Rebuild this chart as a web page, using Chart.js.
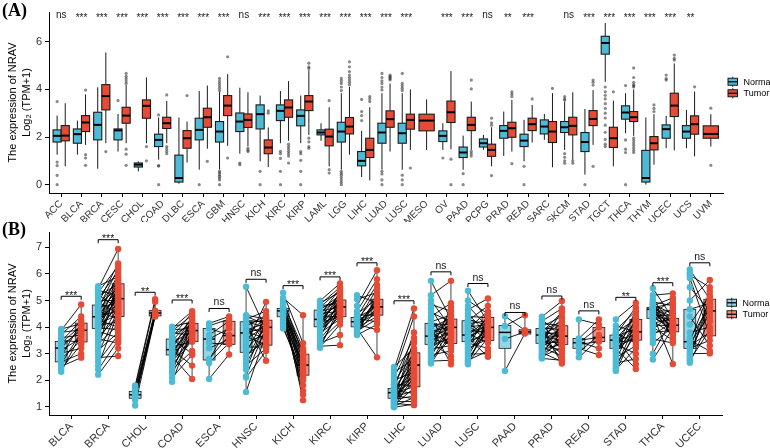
<!DOCTYPE html>
<html>
<head>
<meta charset="utf-8">
<script src="https://cdn.jsdelivr.net/npm/chart.js@4.4.1/dist/chart.umd.min.js"></script>
<style>
  body { margin: 0; background: #fff; width: 770px; height: 448px; overflow: hidden; position: relative; }
  canvas { position: absolute; left: 0; }
  #ca { top: 0; }
  #cb { top: 222px; }
  .tag { position: absolute; left: 2px; font: bold 18px "Liberation Serif", "Times New Roman", serif; line-height: 20px; }
</style>
</head>
<body>
<canvas id="ca" width="770" height="222"></canvas>
<canvas id="cb" width="770" height="226"></canvas>
<div class="tag" style="top:0px">(A)</div>
<div class="tag" style="top:219px">(B)</div>
<script>
const BLUE = '#4DBBD5', RED = '#E64B35';

// ---- panel A : pan-cancer, unpaired ----
const cancersA = ['ACC','BLCA','BRCA','CESC','CHOL','COAD','DLBC','ESCA','GBM','HNSC','KICH','KIRC','KIRP','LAML','LGG','LIHC','LUAD','LUSC','MESO','OV','PAAD','PCPG','PRAD','READ','SARC','SKCM','STAD','TGCT','THCA','THYM','UCEC','UCS','UVM'];
// [lower whisker, q1, median, q3, upper whisker]
const normalA = [
  [1.26,1.79,2.05,2.30,2.90], [1.26,1.74,2.12,2.34,2.69], [0.67,1.88,2.51,3.04,4.09], [1.39,1.88,2.28,2.34,2.97],
  [0.56,0.74,0.84,0.91,0.98], [1.05,1.60,1.88,2.12,2.82], [0.04,0.11,0.28,1.24,2.82], [0.63,1.88,2.30,2.79,3.93],
  [0.63,1.79,2.23,2.65,3.90], [1.30,2.23,2.65,3.01,4.07], [0.98,2.34,2.96,3.35,3.74], [1.74,2.69,3.10,3.35,3.93],
  [1.74,2.47,2.89,3.14,3.74], [1.84,2.09,2.19,2.30,2.58], [0.63,1.79,2.23,2.62,3.84], [0.32,0.79,1.00,1.39,2.26],
  [0.63,1.74,2.19,2.58,3.84], [0.63,1.74,2.16,2.58,3.84], null, [1.46,1.81,2.05,2.26,2.58],
  [0.63,1.14,1.35,1.58,2.06], [1.46,1.58,1.74,1.92,2.09], [1.21,1.95,2.26,2.48,3.07], [0.98,1.60,1.85,2.12,2.72],
  [1.88,2.13,2.44,2.72,2.97], [1.46,2.19,2.41,2.65,3.49], [0.42,1.39,1.79,2.19,3.18], [4.32,5.48,5.95,6.23,6.79],
  [2.16,2.75,3.03,3.31,3.84], [0.00,0.11,0.28,1.44,2.82], [1.53,1.95,2.33,2.51,2.89], [1.53,1.95,2.23,2.48,3.14], null
];
const tumorA = [
  [0.77,1.84,2.06,2.48,3.42], [1.67,2.23,2.61,2.90,3.79], [1.74,3.14,3.72,4.20,5.55], [1.74,2.58,2.90,3.25,4.18],
  [1.74,2.79,3.31,3.56,4.50], [1.74,2.36,2.58,2.83,3.51], [0.93,1.53,1.95,2.27,2.65], [1.51,2.41,2.83,3.21,4.16],
  [1.63,2.90,3.32,3.74,4.64], [1.60,2.40,2.72,2.97,3.88], [0.74,1.30,1.56,1.88,2.40], [1.84,2.83,3.24,3.56,4.35],
  [2.09,3.11,3.49,3.74,4.81], [0.77,1.63,2.02,2.33,3.25], [1.26,2.13,2.44,2.82,4.11], [0.18,1.14,1.46,1.95,3.25],
  [1.39,2.41,2.75,3.10,4.25], [1.46,2.33,2.72,2.96,4.00], [1.46,2.26,2.69,2.96,3.58], [1.49,2.61,3.04,3.51,4.77],
  [1.46,2.27,2.51,2.83,3.49], [0.77,1.19,1.46,1.70,2.41], [1.39,1.99,2.37,2.62,3.56], [1.77,2.27,2.54,2.79,3.35],
  [0.73,1.77,2.23,2.65,3.84], [1.05,2.09,2.47,2.83,3.88], [1.67,2.48,2.76,3.11,3.97], [0.77,1.56,1.95,2.41,3.53],
  [2.05,2.65,2.83,3.07,4.00], [0.84,1.46,1.74,2.02,2.96], [1.44,2.86,3.32,3.84,5.09], [1.19,2.12,2.54,2.89,3.91],
  [1.60,1.95,2.13,2.47,2.96]
];
const normalOutA = [
  [3.49,0.95,0.8,0.39,0], [], [], [3.53], [], [2.93,0.8,0.78,0], [], [0],
  [4.46,4.35,4.25,4.15,4.05,3.95,0.56,0.5,0.42,0.35,0.28,0.2,0], [0.91,0.84], [0.56,0], [1.4,1.3,1.1,0.56,0],
  [1.39,1.3,1.02,0.56,0], [], [4.46,4.36,4.25,4.1,3.95,0.56,0.48,0.4,0.3,0.2,0.1,0], [3.58,3.07,2.9,2.69],
  [4.67,4.5,4.36,4.25,4.1,3.98,0.56,0.45,0.2,0], [4.67,4.25,4.15,4.05,3.95,0.4,0.2,0], [], [1.12],
  [0.46,0], [], [], [0.77,0], [], [3.7,3.6,3.55,1.3,1.15,1.0,0.9], [0],
  [4.1,3.9,3.75,3.6,3.4,3.2,3.0,2.8,2.5,2.2,1.9,1.7,1.6], [4.16,1.88,1.49,1.35,0], [], [4.6,4.45,4.39], [], []
];
const tumorOutA = [
  [], [3.97,1.26,1.12,0.81], [1.39], [4.67,4.55,4.45,4.35,4.25,1.49,1.28,0.81], [1.6,1.0], [3.77,1.6,1.5,1.4,1.3],
  [3.74], [0.98], [5.37,1.12], [1.53,1.45,1.39], [3.1,3.0], [1.7,1.6,1.5,1.4,1.3,1.2,0.91],
  [5.1,4.95,4.88,1.95,1.8,1.6,1.53], [3.53,0.63,0.49], [5.16,4.95,4.75,4.6,4.5,4.4,4.3,4.2], [3.7,3.6,3.49],
  [4.6,4.55,4.5,4.45,4.4], [0.7], [], [1.07,0], [4.39,4.02,1.4,1.3,1.2], [2.79,2.6,2.5,0.38], [3.9,3.8,3.7,0.88],
  [3.6], [4.04], [1.0,0.9], [4.39,4.3,4.18,0.77], [3.9],
  [4.9,4.5,4.3,4.2,4.15,4.1,1.95,1.85,1.75,1.65,1.55,1.45,1.35], [3.35,3.2,3.07], [5.44,5.3,5.23], [4.11], [3.21,0.81]
];
const sigA = ['ns','***','***','***','***','***','***','***','***','ns','***','***','***','***','***','***','***','***','',
  '***','***','ns','**','***','','ns','***','***','***','***','***','**',''];
const sigLevelA = 7.11;

// ---- panel B : paired samples ----
const cancersB = ['BLCA','BRCA','CHOL','COAD','ESCA','HNSC','KICH','KIRC','KIRP','LIHC','LUAD','LUSC','PAAD','PRAD','READ','STAD','THCA','UCEC'];
const normalB = [
  [2.32,2.69,3.21,3.46,3.93], [2.21,3.95,4.39,4.83,5.54], [1.05,1.32,1.45,1.58,1.80], [1.94,2.95,3.15,3.55,4.01],
  [2.05,2.76,3.55,3.95,4.14], [1.56,3.05,3.78,4.20,5.52], [3.95,4.39,4.61,4.70,5.29], [3.22,4.01,4.29,4.64,4.99],
  [3.70,4.01,4.20,4.36,5.20], [0.98,1.32,1.53,1.69,2.50], [2.63,3.35,3.66,4.14,5.74], [2.60,3.45,3.70,4.24,5.37],
  [2.35,3.20,3.80,4.06,4.41], [2.82,3.39,3.70,3.95,4.39], [2.86,3.20,3.41,3.57,4.29], [2.35,3.20,3.51,3.70,4.29],
  [2.78,4.33,4.67,4.74,5.46], [2.66,3.20,3.45,4.67,6.17]
];
const tumorB = [
  [2.85,3.44,3.88,4.15,4.85], [2.91,4.40,5.07,5.63,6.94], [4.40,4.42,4.53,4.62,5.05], [2.05,3.45,3.87,4.14,4.60],
  [2.97,3.35,3.68,4.22,4.40], [2.73,3.32,3.99,4.26,4.95], [1.25,2.19,2.57,2.98,4.45], [3.32,4.39,4.76,5.02,5.64],
  [2.86,4.45,4.76,5.05,6.14], [1.06,1.75,2.57,3.03,4.70], [2.60,3.38,3.99,4.30,5.74], [2.88,3.50,3.99,4.36,5.08],
  [3.74,3.74,3.82,3.90,4.45], [2.63,3.35,3.66,4.05,4.98], [2.95,3.45,3.61,3.99,4.29], [2.42,3.51,3.82,4.29,4.91],
  [2.61,3.82,4.07,4.33,5.27], [3.01,3.67,4.61,5.05,5.77]
];
// paired values, pairN[i][k] belongs with pairT[i][k]
const pairN = [
  [3.93,3.88,3.80,3.72,3.60,3.50,3.46,3.40,3.30,3.21,3.12,3.02,2.90,2.80,2.69,2.62,2.52,2.42,2.32],
  [5.54,5.45,5.38,5.30,5.22,5.15,5.08,5.00,4.95,4.90,4.85,4.80,4.75,4.70,4.65,4.60,4.55,4.50,4.46,4.42,4.39,4.35,4.30,4.26,4.22,4.18,4.14,4.10,4.06,4.02,3.98,3.95,3.90,3.84,3.78,3.70,3.62,3.55,3.45,3.35,3.25,3.12,3.00,2.85,2.70,2.55,2.40,2.21],
  [1.80,1.72,1.65,1.55,1.48,1.42,1.35,1.25,1.05],
  [4.01,3.95,3.90,3.85,3.78,3.70,3.62,3.55,3.48,3.40,3.33,3.26,3.20,3.15,3.10,3.05,3.00,2.95,2.90,2.85,2.78,2.70,2.62,2.55,2.48,2.40,2.32,2.25,2.10,1.94],
  [4.14,4.05,3.95,3.70,3.55,3.40,3.20,2.80,2.76,2.65,2.05],
  [5.52,4.45,4.40,4.35,4.30,4.25,4.20,4.15,4.10,4.02,3.95,3.88,3.80,3.78,3.72,3.65,3.55,3.45,3.35,3.25,3.15,3.05,2.95,2.80,2.65,2.55,2.40,2.15,2.10,1.56],
  [5.29,5.10,5.00,4.92,4.85,4.80,4.75,4.72,4.70,4.68,4.65,4.62,4.61,4.58,4.55,4.50,4.47,4.44,4.40,4.36,4.30,4.22,4.15,4.05,3.95],
  [4.99,4.92,4.85,4.80,4.75,4.70,4.64,4.60,4.55,4.50,4.46,4.42,4.38,4.34,4.29,4.25,4.21,4.17,4.13,4.09,4.05,4.01,3.96,3.90,3.84,3.78,3.70,3.62,3.55,3.48,3.40,3.32,3.28,3.25,3.22],
  [5.20,5.05,4.80,4.60,4.50,4.45,4.40,4.36,4.32,4.28,4.24,4.20,4.17,4.14,4.10,4.06,4.03,4.01,3.98,3.95,3.90,3.85,3.80,3.75,3.70],
  [2.50,2.40,2.30,2.20,2.10,2.00,1.92,1.85,1.80,1.75,1.70,1.66,1.62,1.58,1.55,1.52,1.49,1.46,1.43,1.40,1.37,1.34,1.31,1.28,1.25,1.22,1.19,1.16,1.13,1.10,1.07,1.04,1.02,1.00,0.98],
  [5.74,5.20,5.00,4.85,4.70,4.55,4.40,4.30,4.20,4.14,4.08,4.02,3.96,3.90,3.84,3.78,3.72,3.66,3.60,3.55,3.50,3.45,3.40,3.35,3.30,3.25,3.18,3.10,3.02,2.95,2.88,2.80,2.72,2.68,2.63],
  [5.37,5.00,4.80,4.65,4.50,4.40,4.30,4.24,4.18,4.12,4.06,4.00,3.94,3.88,3.82,3.76,3.70,3.65,3.60,3.55,3.50,3.45,3.40,3.35,3.28,3.20,3.12,3.05,2.98,2.90,2.82,2.75,2.70,2.65,2.60],
  [4.41,4.04,3.55,2.35],
  [4.39,4.30,4.22,4.15,4.08,4.02,3.97,3.93,3.89,3.85,3.81,3.77,3.74,3.71,3.68,3.65,3.62,3.58,3.54,3.50,3.46,3.42,3.39,3.35,3.30,3.25,3.20,3.15,3.10,3.04,2.98,2.92,2.88,2.85,2.82],
  [4.29,3.57,3.50,3.45,3.41,3.35,3.20,3.05,2.86],
  [4.29,4.05,3.90,3.80,3.75,3.70,3.65,3.60,3.55,3.51,3.47,3.43,3.39,3.35,3.30,3.25,3.20,3.12,3.05,2.95,2.85,2.75,2.65,2.55,2.48,2.40,2.35],
  [5.46,5.20,5.05,4.95,4.90,4.85,4.80,4.76,4.74,4.72,4.70,4.68,4.67,4.65,4.62,4.60,4.57,4.54,4.50,4.46,4.42,4.38,4.33,4.28,4.22,4.15,4.08,4.00,3.90,3.80,3.70,3.55,3.40,3.00,2.78],
  [6.17,6.05,5.95,5.85,5.50,5.00,4.67,4.40,4.10,3.80,3.60,3.50,3.45,3.40,3.30,3.25,3.20,3.10,3.00,2.95,2.85,2.75,2.66]
];
const pairT = [
  [4.12,4.85,3.90,4.40,3.70,3.44,4.25,4.05,3.88,3.95,3.60,3.20,4.15,3.50,3.00,3.80,2.85,3.35,3.75],
  [5.90,6.94,5.20,6.30,4.70,5.63,6.10,5.00,4.50,6.40,5.45,5.80,4.90,6.20,5.35,4.30,5.75,5.10,6.00,4.60,5.55,4.85,5.25,4.00,5.70,5.07,4.45,5.40,4.20,5.15,3.90,4.80,5.50,3.60,4.95,5.30,4.40,3.40,4.75,4.10,5.60,3.80,4.65,2.91,3.70,4.55,3.50,3.20],
  [5.05,4.95,4.62,4.55,4.50,4.48,4.44,4.42,4.40],
  [4.20,4.60,3.95,4.45,3.70,4.10,4.55,3.00,4.30,3.85,4.15,3.45,4.40,2.55,3.90,4.05,3.60,4.25,2.05,3.80,4.00,3.55,4.35,3.50,3.75,3.10,4.12,3.65,2.95,3.88],
  [4.40,4.30,3.70,4.22,3.95,3.35,3.55,3.68,4.10,3.40,2.97],
  [3.90,4.30,4.10,3.40,4.60,4.20,3.99,4.26,2.73,4.45,3.80,4.15,3.60,4.00,4.35,3.32,4.05,3.70,4.95,3.25,3.95,4.40,3.50,4.10,3.85,3.20,4.25,3.99,3.10,3.75],
  [3.39,4.45,2.98,3.20,2.70,3.05,2.57,1.25,2.90,2.35,3.10,2.50,1.60,2.80,2.19,2.62,1.45,3.00,2.25,2.45,1.80,2.10,2.65,2.00,2.30],
  [5.64,5.30,5.50,4.90,5.40,5.02,5.20,4.76,5.10,4.60,5.45,4.85,4.40,5.25,4.95,4.70,5.00,4.39,5.15,4.80,4.55,5.35,4.65,4.50,4.90,4.30,4.75,5.05,4.45,4.20,3.70,4.60,3.32,4.10,4.80],
  [4.90,5.30,6.14,5.80,5.05,4.45,5.60,4.76,4.20,5.20,4.60,5.45,4.85,4.50,3.90,5.00,4.70,5.10,4.40,2.86,4.95,4.30,4.65,5.15,4.10],
  [3.20,4.70,2.80,4.40,3.60,2.30,3.03,1.80,3.40,2.57,2.10,3.80,1.50,2.90,2.40,1.75,3.10,2.00,1.30,2.70,1.60,2.20,3.50,1.40,2.60,1.90,1.20,2.50,1.06,2.35,1.70,3.00,1.35,2.15,1.10],
  [4.30,5.74,3.99,4.60,3.50,4.20,4.90,3.20,4.45,3.85,4.10,2.60,4.35,3.70,4.00,3.40,4.25,3.95,4.55,3.38,3.80,4.15,2.90,4.40,3.60,4.05,3.30,4.75,3.90,3.10,4.20,3.55,2.75,4.00,3.75],
  [4.20,4.50,3.99,5.08,3.70,4.36,4.05,4.80,3.60,4.25,3.50,4.10,4.60,3.80,4.00,3.40,4.30,3.95,2.88,4.15,3.65,4.40,3.20,3.90,4.45,3.55,3.75,4.05,3.00,4.20,3.85,3.10,3.99,3.60,4.30],
  [3.88,4.45,3.82,3.76],
  [4.98,3.60,4.70,4.05,3.30,4.40,3.90,2.63,4.20,3.66,4.55,3.20,3.80,4.10,2.80,3.50,4.30,3.70,3.00,3.95,3.40,4.60,3.10,3.85,3.55,2.90,4.00,3.35,3.75,2.70,3.45,4.15,3.25,3.60,2.75],
  [4.10,4.29,3.61,3.20,3.99,3.45,2.95,3.70,3.55],
  [4.91,3.82,4.60,4.29,3.40,4.75,3.95,2.60,4.40,3.70,4.10,3.51,4.50,3.00,4.20,3.60,2.42,4.00,3.85,4.65,3.30,4.35,2.80,3.75,4.15,3.20,3.90],
  [4.33,5.27,4.07,4.80,3.82,4.50,5.10,3.60,4.25,4.90,3.95,4.40,4.15,3.70,4.60,4.00,3.85,5.00,4.20,2.61,4.45,3.90,4.10,4.70,3.75,4.30,4.05,3.50,4.55,3.88,4.20,3.40,4.00,4.35,3.95],
  [5.05,4.20,5.50,3.67,4.61,5.77,4.90,3.30,5.20,4.00,4.75,3.10,5.35,4.45,3.80,5.00,3.50,4.61,3.01,4.85,5.10,3.90,4.30]
];
const sigB = ['***','***','**','***','ns','ns','***','***','***','***','ns','ns','ns','ns','ns','**','***','ns'];
const bracketB = [5.16,7.29,5.31,5.02,4.70,5.80,5.56,5.89,6.42,4.99,6.08,5.64,4.55,5.17,4.61,5.12,5.67,6.42];

Chart.defaults.font.family = "'Liberation Sans', Arial, sans-serif";
Chart.defaults.color = '#333';

const yTitle = ['The expression of NRAV', 'Log\u2082 (TPM+1)'];

function axes(labels, xmin, xmax, ymin, ymax, ystep, xh, xfont) {
  return {
    x: {
      type: 'linear', min: xmin, max: xmax,
      afterFit: s => { s.height = xh; },
      ticks: { stepSize: 1, includeBounds: false, autoSkip: false, minRotation: 45, maxRotation: 45, padding: 1,
        font: { size: xfont }, color: '#333', callback: v => Number.isInteger(v) ? (labels[v] || '') : '' },
      grid: { drawOnChartArea: false, drawTicks: true, tickLength: 4, color: '#000' },
      border: { color: '#000', width: 1 }
    },
    y: {
      min: ymin, max: ymax,
      afterFit: s => { s.width = 49; },
      ticks: { stepSize: ystep, includeBounds: false, padding: 3, font: { size: 11 }, color: '#333' },
      grid: { drawOnChartArea: false, drawTicks: true, tickLength: 4, color: '#000' },
      border: { color: '#000', width: 1 },
      title: { display: true, text: yTitle, color: '#000', font: { size: 11, lineHeight: 1.25 }, padding: { top: 6, bottom: 0 } }
    }
  };
}

function drawBox(ctx, xs, ys, pos, w, s, fill, lw) {
  const x0 = xs.getPixelForValue(pos - w / 2), x1 = xs.getPixelForValue(pos + w / 2), xc = xs.getPixelForValue(pos);
  const [lo, q1, md, q3, hi] = s.map(v => ys.getPixelForValue(v));
  ctx.save();
  ctx.strokeStyle = '#1a1a1a';
  ctx.lineWidth = lw[0];
  ctx.beginPath();
  ctx.moveTo(xc, lo); ctx.lineTo(xc, q1);
  ctx.moveTo(xc, q3); ctx.lineTo(xc, hi);
  ctx.stroke();
  ctx.fillStyle = fill;
  ctx.fillRect(x0, q3, x1 - x0, q1 - q3);
  ctx.lineWidth = lw[1];
  ctx.strokeRect(x0, q3, x1 - x0, q1 - q3);
  ctx.strokeStyle = '#000';
  ctx.lineWidth = lw[2];
  ctx.beginPath(); ctx.moveTo(x0, md); ctx.lineTo(x1, md); ctx.stroke();
  ctx.restore();
}

function legendPlugin(alpha) {
  return {
    id: 'legendBox',
    afterDraw(chart) {
      const { ctx, chartArea: a } = chart;
      const mid = (a.top + a.bottom) / 2 - 15;
      [['Normal', BLUE, -5.75], ['Tumor', RED, 5.75]].forEach(([name, col, dy]) => {
        const cy = mid + dy, x0 = a.right + 5, w = 9.5, h = 7;
        ctx.save();
        ctx.strokeStyle = '#1a1a1a';
        ctx.lineWidth = 1;
        ctx.beginPath();
        ctx.moveTo(x0 + w / 2, cy - h / 2 - 1.5); ctx.lineTo(x0 + w / 2, cy + h / 2 + 1.5);
        ctx.stroke();
        ctx.globalAlpha = alpha;
        ctx.fillStyle = col;
        ctx.fillRect(x0, cy - h / 2, w, h);
        ctx.globalAlpha = 1;
        ctx.strokeRect(x0, cy - h / 2, w, h);
        ctx.lineWidth = 1.5;
        ctx.beginPath(); ctx.moveTo(x0, cy); ctx.lineTo(x0 + w, cy); ctx.stroke();
        ctx.fillStyle = '#000';
        ctx.font = "9px 'Liberation Sans', Arial, sans-serif";
        ctx.textBaseline = 'middle';
        ctx.fillText(name, x0 + 15.5, cy + 0.5);
        ctx.restore();
      });
    }
  };
}

// ---- chart A ----
const OFF_A = 0.2, W_A = 0.4, W_SINGLE = 0.75;
function outPts(outs, other, sign) {
  const pts = [];
  outs.forEach((arr, i) => arr.forEach(v => pts.push({ x: other[i] ? i + sign * OFF_A : i, y: v })));
  return pts;
}

new Chart(document.getElementById('ca'), {
  type: 'scatter',
  data: {
    datasets: [
      { data: outPts(normalOutA, tumorA, -1), pointRadius: 1.6, pointBackgroundColor: 'rgba(40,40,40,0.55)', pointBorderWidth: 0 },
      { data: outPts(tumorOutA, normalA, 1), pointRadius: 1.6, pointBackgroundColor: 'rgba(40,40,40,0.55)', pointBorderWidth: 0 }
    ]
  },
  options: {
    responsive: false, animation: false, events: [],
    layout: { padding: { top: 12, right: 47, left: 0, bottom: 0 } },
    plugins: { legend: { display: false }, tooltip: { enabled: false } },
    scales: axes(cancersA, -0.6, 32.6, -0.35, 7.25, 2, 29, 10)
  },
  plugins: [{
    id: 'boxesA',
    beforeDatasetsDraw(chart) {
      const { ctx, scales: { x, y } } = chart;
      cancersA.forEach((c, i) => {
        const n = normalA[i], t = tumorA[i];
        if (n && t) {
          drawBox(ctx, x, y, i - OFF_A, W_A, n, BLUE, [1, 1.1, 2]);
          drawBox(ctx, x, y, i + OFF_A, W_A, t, RED, [1, 1.1, 2]);
        } else if (t) {
          drawBox(ctx, x, y, i, W_SINGLE, t, RED, [1, 1.1, 2]);
        }
      });
    },
    afterDatasetsDraw(chart) {
      const { ctx, scales: { x, y } } = chart;
      ctx.save();
      ctx.fillStyle = '#222';
      ctx.font = "10px 'Liberation Sans', Arial, sans-serif";
      ctx.textAlign = 'center';
      ctx.textBaseline = 'alphabetic';
      sigA.forEach((s, i) => {
        if (!s) return;
        ctx.fillText(s, x.getPixelForValue(i), y.getPixelForValue(sigLevelA) + (s === 'ns' ? 3 : 6));
      });
      ctx.restore();
    }
  }, legendPlugin(1)]
});

// ---- chart B ----
const OFF_B = 0.27, W_B = 0.32;
const pairLines = [], ptsN = [], ptsT = [];
pairN.forEach((arr, i) => arr.forEach((v, k) => {
  const t = pairT[i][k];
  pairLines.push({ x: i - OFF_B, y: v }, { x: i + OFF_B, y: t }, { x: i + OFF_B, y: null });
  ptsN.push({ x: i - OFF_B, y: v });
  ptsT.push({ x: i + OFF_B, y: t });
}));

new Chart(document.getElementById('cb'), {
  type: 'scatter',
  data: {
    datasets: [
      { data: pairLines, showLine: true, spanGaps: false, borderColor: '#000', borderWidth: 0.9, pointRadius: 0, order: 3 },
      { data: ptsN, pointRadius: 3.2, pointBackgroundColor: BLUE, pointBorderWidth: 0, order: 2 },
      { data: ptsT, pointRadius: 3.2, pointBackgroundColor: RED, pointBorderWidth: 0, order: 1 }
    ]
  },
  options: {
    responsive: false, animation: false, events: [],
    layout: { padding: { top: 10, right: 48, left: 0, bottom: 0 } },
    plugins: { legend: { display: false }, tooltip: { enabled: false } },
    scales: axes(cancersB, -0.6, 17.6, 0.69, 7.58, 1, 33, 11)
  },
  plugins: [{
    id: 'boxesB',
    beforeDatasetsDraw(chart) {
      const { ctx, scales: { x, y } } = chart;
      cancersB.forEach((c, i) => {
        drawBox(ctx, x, y, i - OFF_B, W_B, normalB[i], 'rgba(77,187,213,0.6)', [0.8, 0.8, 1.5]);
        drawBox(ctx, x, y, i + OFF_B, W_B, tumorB[i], 'rgba(230,75,53,0.6)', [0.8, 0.8, 1.5]);
      });
    },
    afterDatasetsDraw(chart) {
      const { ctx, scales: { x, y } } = chart;
      ctx.save();
      ctx.strokeStyle = '#000';
      ctx.fillStyle = '#222';
      ctx.lineWidth = 1;
      ctx.font = "10.5px 'Liberation Sans', Arial, sans-serif";
      ctx.textAlign = 'center';
      ctx.textBaseline = 'alphabetic';
      sigB.forEach((s, i) => {
        const xl = x.getPixelForValue(i - OFF_B), xr = x.getPixelForValue(i + OFF_B), yb = y.getPixelForValue(bracketB[i]);
        ctx.beginPath();
        ctx.moveTo(xl, yb + 3.5); ctx.lineTo(xl, yb); ctx.lineTo(xr, yb); ctx.lineTo(xr, yb + 3.5);
        ctx.stroke();
        ctx.fillText(s, (xl + xr) / 2, yb + (s === 'ns' ? -3 : 2.5));
      });
      ctx.restore();
    }
  }, legendPlugin(0.6)]
});
</script>
</body>
</html>
